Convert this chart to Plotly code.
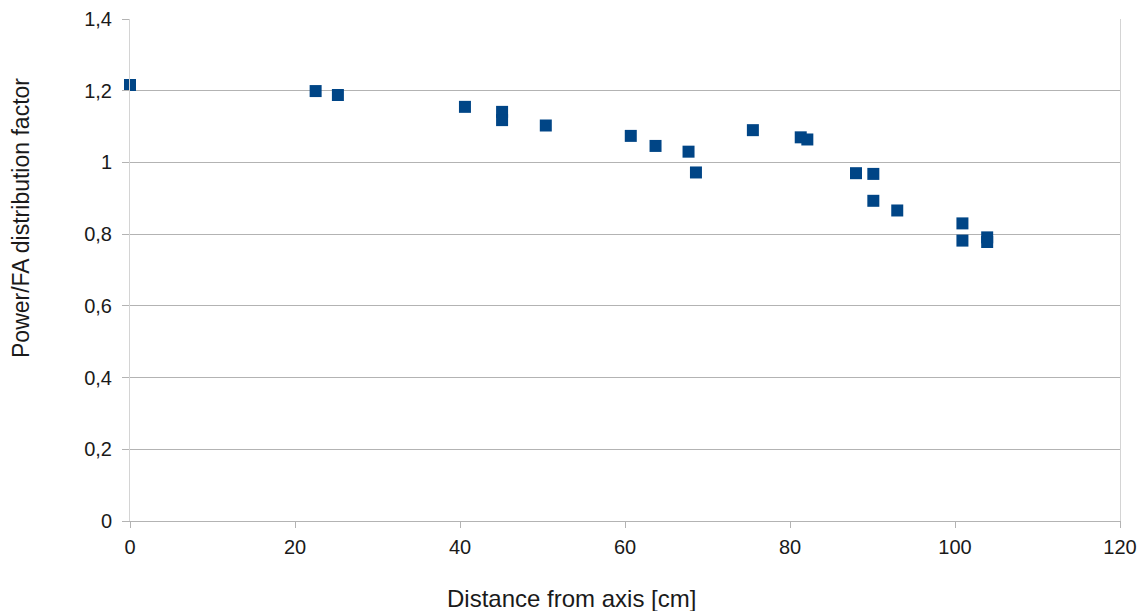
import plotly.graph_objects as go

distance_cm = [0, 22.5, 25.2, 40.6, 45.1, 45.1, 50.4, 60.7, 63.7, 67.7, 68.6,
               75.5, 81.3, 82.1, 88.0, 90.1, 90.1, 93.0, 100.9, 100.9, 103.9, 103.9]
factor = [1.216, 1.199, 1.188, 1.155, 1.141, 1.118, 1.103, 1.074, 1.046, 1.030, 0.972,
          1.090, 1.070, 1.064, 0.970, 0.968, 0.893, 0.866, 0.830, 0.782, 0.791, 0.778]

x_ticks = [0, 20, 40, 60, 80, 100, 120]
y_ticks = [0, 0.2, 0.4, 0.6, 0.8, 1.0, 1.2, 1.4]
y_tick_labels = ["0", "0,2", "0,4", "0,6", "0,8", "1", "1,2", "1,4"]
x_title = "Distance from axis [cm]"
y_title = "Power/FA distribution factor"

fig = go.Figure()
fig.add_trace(go.Scatter(
    x=distance_cm, y=factor, mode="markers",
    marker=dict(symbol="square", size=12, color="#004586", line=dict(width=0)),
    cliponaxis=False, showlegend=False,
))

font = "Liberation Sans, Arial, sans-serif"
# the page body adds an 8px offset, so the figure is sized 8px smaller
fig.update_layout(
    width=1137, height=603,
    margin=dict(l=122, r=25, t=11, b=90, autoexpand=False),
    paper_bgcolor="white", plot_bgcolor="white",
    font=dict(family=font, size=20, color="#1a1a1a"),
    separators=", ",
    xaxis=dict(
        range=[0, 120], tickvals=x_ticks, showgrid=False, zeroline=False,
        showline=True, linecolor="#b3b3b3", linewidth=1,
        ticks="outside", ticklen=6, tickcolor="#b3b3b3",
        ticklabelstandoff=2, automargin=False,
    ),
    yaxis=dict(
        range=[0, 1.4], tickvals=y_ticks, ticktext=y_tick_labels,
        showgrid=True, gridcolor="#b3b3b3", gridwidth=1, zeroline=False,
        showline=True, linecolor="#d4d4d4", linewidth=1, mirror=True,
        ticks="outside", ticklen=7, tickcolor="#b3b3b3",
        ticklabelstandoff=6, automargin=False,
    ),
    annotations=[
        dict(text=x_title, xref="paper", yref="paper", x=0.4455, y=-0.1534,
             xanchor="center", yanchor="middle", showarrow=False,
             font=dict(size=24)),
        dict(text=y_title, xref="paper", yref="paper", x=-0.1101, y=0.6036,
             xanchor="center", yanchor="middle", showarrow=False, textangle=-90,
             font=dict(size=23)),
    ],
)

fig.write_html("out.html")
